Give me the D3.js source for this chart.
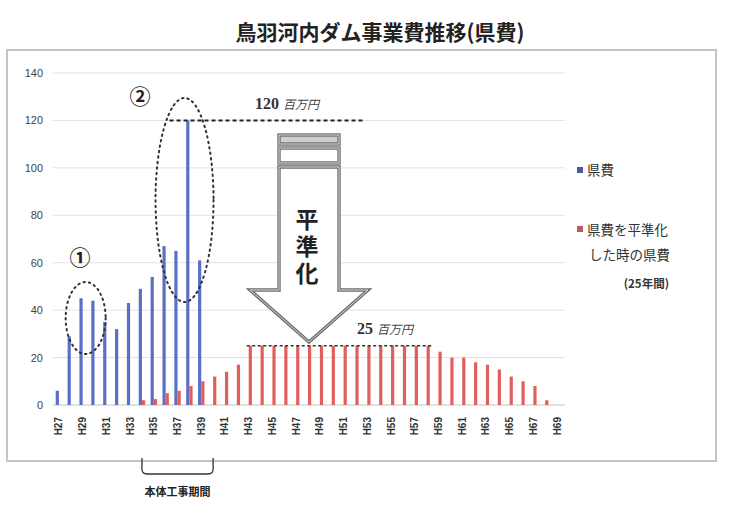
<!DOCTYPE html>
<html>
<head>
<meta charset="utf-8">
<script src="https://cdn.jsdelivr.net/npm/d3@7/dist/d3.min.js"></script>
<style>
  html, body { margin: 0; padding: 0; background: #fff; }
  svg { display: block; }
</style>
</head>
<body>
<svg id="chart" width="753" height="509"></svg>
<script>
// 年度 (H27〜H69)
const categories = ["H27","H28","H29","H30","H31","H32","H33","H34","H35","H36","H37","H38","H39","H40","H41","H42","H43","H44","H45","H46","H47","H48","H49","H50","H51","H52","H53","H54","H55","H56","H57","H58","H59","H60","H61","H62","H63","H64","H65","H66","H67","H68","H69"];

// 県費 (百万円)
const kenpi = [6,29,45,44,35,32,43,49,54,67,65,120,61,
  null,null,null,null,null,null,null,null,null,null,null,null,null,null,null,
  null,null,null,null,null,null,null,null,null,null,null,null,null,null,null];

// 県費を平準化した時の県費 (百万円)
const heijunka = [null,null,null,null,null,null,null,
  2,2.5,5,6,8,10,12,14,17,
  25,25,25,25,25,25,25,25,25,25,25,25,25,25,25,25,
  22.5,20,20,18,17,15,12,10,8,2,null];

const xTickLabels = ["H27","H29","H31","H33","H35","H37","H39","H41","H43","H45","H47","H49","H51","H53","H55","H57","H59","H61","H63","H65","H67","H69"];
const yTicks = [0,20,40,60,80,100,120,140];

const seriesNames = ["県費", "平準化"];
const colors = { "県費": "#5b6fc4", "平準化": "#df5f5c" };

const svg = d3.select("#chart");
const jp = "'Noto Sans CJK JP', 'Noto Sans', sans-serif";

// 枠
svg.append("rect")
  .attr("x", 7).attr("y", 50).attr("width", 709).attr("height", 411)
  .attr("fill", "none").attr("stroke", "#c4c4c4").attr("stroke-width", 2);

// タイトル
svg.append("text")
  .attr("x", 380).attr("y", 40)
  .attr("text-anchor", "middle")
  .attr("font-family", jp).attr("font-weight", "bold")
  .attr("font-size", 21).attr("fill", "#222")
  .text("鳥羽河内ダム事業費推移(県費)");

const x = d3.scaleBand().domain(categories).range([53, 563])
  .paddingInner(0.46).paddingOuter(0.23);
const xs = d3.scaleBand().domain(seriesNames).range([0, x.bandwidth()]);
const y = d3.scaleLinear().domain([0, 140]).range([405, 73]);

// 目盛線
svg.append("g").selectAll("line").data(yTicks).join("line")
  .attr("x1", 53).attr("x2", 565)
  .attr("y1", d => y(d)).attr("y2", d => y(d))
  .attr("stroke", d => d === 0 ? "#c4c4c4" : "#e2e2e2").attr("stroke-width", 1);

// Y軸
const yAxis = svg.append("g").attr("transform", "translate(46,0)")
  .call(d3.axisLeft(y).tickValues(yTicks).tickSize(0).tickPadding(3));
yAxis.select(".domain").remove();
yAxis.selectAll("text")
  .attr("font-family", "'Liberation Sans', Arial, sans-serif")
  .attr("font-size", 11).attr("fill", "#444");

// X軸 (縦書きラベル)
const xAxis = svg.append("g").attr("transform", "translate(0,405)")
  .call(d3.axisBottom(x).tickValues(xTickLabels).tickSize(0));
xAxis.select(".domain").remove();
xAxis.selectAll("text")
  .attr("font-family", "'Liberation Sans', Arial, sans-serif")
  .attr("font-size", 10).attr("font-weight", "bold").attr("fill", "#333")
  .attr("text-anchor", "end")
  .attr("transform", "rotate(-90)")
  .attr("x", -12).attr("y", 0).attr("dy", "0.35em");

// 棒
const rows = categories.map((c, i) => ({ cat: c, values: [
  { key: "県費", v: kenpi[i] }, { key: "平準化", v: heijunka[i] } ] }));
const groups = svg.append("g").selectAll("g").data(rows).join("g")
  .attr("transform", d => `translate(${x(d.cat)},0)`);
groups.selectAll("rect").data(d => d.values.filter(e => e.v != null)).join("rect")
  .attr("x", d => xs(d.key))
  .attr("width", xs.bandwidth())
  .attr("y", d => y(d.v))
  .attr("height", d => y(0) - y(d.v))
  .attr("fill", d => colors[d.key]);

const cx = c => x(c) + x.bandwidth() / 2;

// 点線の楕円
const dotted = { fill: "none", stroke: "#333", "stroke-width": 2, "stroke-dasharray": "1.5,4", "stroke-linecap": "round" };
function applyAttrs(sel, a) { Object.entries(a).forEach(([k, v]) => sel.attr(k, v)); return sel; }
applyAttrs(svg.append("ellipse")
  .attr("cx", cx("H29") + 3).attr("cy", 318).attr("rx", 20).attr("ry", 36), dotted);
applyAttrs(svg.append("ellipse")
  .attr("cx", cx("H37") + 7).attr("cy", 200).attr("rx", 29).attr("ry", 102), dotted);

// 丸数字
svg.append("text").attr("x", 80).attr("y", 265).attr("text-anchor", "middle")
  .attr("font-family", jp).attr("font-size", 21).attr("font-weight", "bold").attr("fill", "#222").text("①");
svg.append("text").attr("x", 140).attr("y", 104).attr("text-anchor", "middle")
  .attr("font-family", jp).attr("font-size", 21).attr("font-weight", "bold").attr("fill", "#222").text("②");

// 120百万円 の破線
svg.append("line")
  .attr("x1", cx("H37") - 8).attr("x2", 363)
  .attr("y1", y(120)).attr("y2", y(120))
  .attr("stroke", "#222").attr("stroke-width", 2).attr("stroke-dasharray", "4,3");
const lbl120 = svg.append("text").attr("x", 255).attr("y", 109);
lbl120.append("tspan").attr("font-family", "'Liberation Serif', serif").attr("font-weight", "bold")
  .attr("font-size", 16).attr("fill", "#333").text("120");
lbl120.append("tspan").attr("dx", 4).attr("font-family", jp).attr("font-style", "italic")
  .attr("font-size", 12).attr("fill", "#444").text("百万円");

// 25百万円 の破線
svg.append("line")
  .attr("x1", cx("H43") - 2).attr("x2", cx("H58") + 5)
  .attr("y1", y(25)).attr("y2", y(25))
  .attr("stroke", "#333").attr("stroke-width", 1.6).attr("stroke-dasharray", "3,2.5");
const lbl25 = svg.append("text").attr("x", 357).attr("y", 334);
lbl25.append("tspan").attr("font-family", "'Liberation Serif', serif").attr("font-weight", "bold")
  .attr("font-size", 16).attr("fill", "#333").text("25");
lbl25.append("tspan").attr("dx", 4).attr("font-family", jp).attr("font-style", "italic")
  .attr("font-size", 12).attr("fill", "#444").text("百万円");

// 平準化の矢印
const ax = 309, half = 30, headHalf = 59, shaftTop = 167, headY = 290, tipY = 342;
const arrowPath = `M${ax - half},${shaftTop} L${ax + half},${shaftTop} L${ax + half},${headY} L${ax + headHalf},${headY} L${ax},${tipY} L${ax - headHalf},${headY} L${ax - half},${headY} Z`;
function doubleOutline(drawFn, fill) {
  drawFn().attr("fill", fill).attr("stroke", "#6d6d6d").attr("stroke-width", 3.4);
  drawFn().attr("fill", "none").attr("stroke", "#d8d8d8").attr("stroke-width", 1);
}
doubleOutline(() => svg.append("path").attr("d", arrowPath).attr("stroke-linejoin", "miter"), "#fff");
doubleOutline(() => svg.append("rect").attr("x", ax - half).attr("y", 148).attr("width", half * 2).attr("height", 15), "#fff");
doubleOutline(() => svg.append("rect").attr("x", ax - half).attr("y", 135).attr("width", half * 2).attr("height", 9), "#cfcfcf");

// 縦書きの「平準化」
svg.append("text")
  .attr("x", ax - 2).attr("y", 208)
  .style("writing-mode", "vertical-rl")
  .attr("letter-spacing", 4)
  .attr("font-family", jp).attr("font-weight", "bold").attr("font-size", 23)
  .attr("fill", "#222")
  .text("平準化");

// 凡例
const lg = svg.append("g").attr("font-family", jp).attr("font-size", 13.5).attr("fill", "#333");
lg.append("rect").attr("x", 577).attr("y", 167).attr("width", 6).attr("height", 6).attr("fill", "#4b5a9e");
lg.append("text").attr("x", 587).attr("y", 175).text("県費");
lg.append("rect").attr("x", 577).attr("y", 226).attr("width", 6).attr("height", 6).attr("fill", "#c9546a");
lg.append("text").attr("x", 587).attr("y", 235).text("県費を平準化");
lg.append("text").attr("x", 589).attr("y", 260).text("した時の県費");
lg.append("text").attr("x", 669).attr("y", 288).attr("text-anchor", "end").attr("font-weight", "bold").attr("font-size", 11.5).text("(25年間)");

// 本体工事期間
const bx1 = cx("H34"), bx2 = cx("H40");
svg.append("path")
  .attr("d", `M${bx1},458 L${bx1},469 Q${bx1},474 ${bx1 + 5},474 L${bx2 - 5},474 Q${bx2},474 ${bx2},469 L${bx2},458`)
  .attr("fill", "none").attr("stroke", "#333").attr("stroke-width", 1.3);
svg.append("text").attr("x", (bx1 + bx2) / 2).attr("y", 496).attr("text-anchor", "middle")
  .attr("font-family", jp).attr("font-weight", "bold").attr("font-size", 11).attr("fill", "#222")
  .text("本体工事期間");
</script>
</body>
</html>
